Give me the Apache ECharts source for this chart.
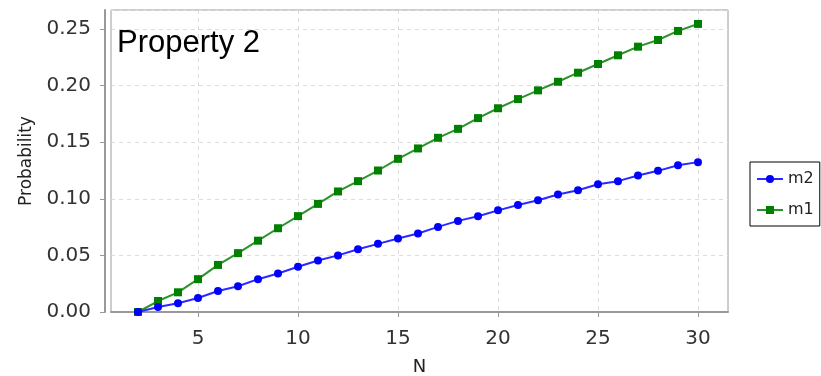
<!DOCTYPE html>
<html>
<head>
<meta charset="utf-8">
<script src="https://cdn.jsdelivr.net/npm/echarts@6/dist/echarts.min.js"></script>
<style>html,body{margin:0;padding:0;background:#fff;}#c{width:821px;height:376px;}</style>
</head>
<body>
<div id="c"></div>
<script>
var N = [2,3,4,5,6,7,8,9,10,11,12,13,14,15,16,17,18,19,20,21,22,23,24,25,26,27,28,29,30];
var m1 = [0,0.0097,0.0174,0.029,0.0416,0.052,0.063,0.074,0.0847,0.0955,0.1065,0.1156,0.125,0.1353,0.1445,0.1539,0.1618,0.1713,0.18,0.1881,0.1958,0.2034,0.2114,0.2191,0.2268,0.2344,0.2403,0.2483,0.2545];
var m2 = [0,0.0044,0.0077,0.0124,0.0186,0.0227,0.029,0.034,0.040,0.0455,0.050,0.0555,0.0602,0.0649,0.0693,0.0752,0.0805,0.0846,0.0898,0.0946,0.0988,0.1038,0.1076,0.1129,0.1156,0.1206,0.1247,0.1297,0.1324];
var xTicks = [5,10,15,20,25,30];
var seriesNames = ['m1','m2'];
var chartTitle = 'Property 2';

function pairs(xs, ys){ return xs.map(function(x,i){ return [x, ys[i]]; }); }

var chart = echarts.init(document.getElementById('c'), null, {renderer:'canvas'});
var axisFont = 'DejaVu Sans';
chart.setOption({
  animation: false,
  backgroundColor: '#fff',
  grid: {left: 111, right: 93, top: 10, bottom: 64, outerBoundsMode: 'none', containLabel: false,
         show: true, borderColor: '#9a9a9a', borderWidth: 1, backgroundColor: '#fff'},
  graphic: [{
    type: 'text', left: 117, top: 28, z: 100,
    style: {text: chartTitle, font: '31px "Liberation Sans", Arial, sans-serif', fill: '#000'}
  }],
  legend: {
    data: ['m2','m1'], orient: 'vertical', left: 750, top: 162,
    borderColor: '#000', borderWidth: 1, backgroundColor: '#fff',
    padding: [9,6,8,6], itemWidth: 26, itemHeight: 10, itemGap: 15,
    textStyle: {fontFamily: axisFont, fontSize: 16, color: '#222'}
  },
  xAxis: {
    type: 'value', min: 0.65, max: 31.5, offset: 6,
    name: 'N', nameLocation: 'middle', nameGap: 40,
    nameTextStyle: {fontFamily: axisFont, fontSize: 18, color: '#222'},
    axisLine: {show: true, lineStyle: {color: '#999', width: 2}},
    axisTick: {show: true, length: 5, lineStyle: {color: '#999'}, customValues: xTicks},
    axisLabel: {fontFamily: axisFont, fontSize: 20, color: '#333', margin: 11, customValues: xTicks},
    splitLine: {show: true, lineStyle: {color: '#dcdcdc', type: [4,4], width: 1}}
  },
  yAxis: {
    type: 'value', min: 0, max: 0.2668, offset: 6,
    name: 'Probability', nameLocation: 'middle', nameGap: 70, nameRotate: 90,
    nameTextStyle: {fontFamily: axisFont, fontSize: 17, color: '#222'},
    axisLine: {show: true, lineStyle: {color: '#999', width: 2}},
    axisTick: {show: true, length: 5, lineStyle: {color: '#999'}},
    axisLabel: {fontFamily: axisFont, fontSize: 20, color: '#333', margin: 14, showMaxLabel: false,
      formatter: function(v){ return v.toFixed(2); }},
    splitLine: {show: true, lineStyle: {color: '#dcdcdc', type: [4,4], width: 1}}
  },
  series: [
    {name: 'm1', type: 'line', data: pairs(N, m1), symbol: 'rect', symbolSize: 8,
     itemStyle: {color: '#008000'}, lineStyle: {color: '#2a932a', width: 2}},
    {name: 'm2', type: 'line', data: pairs(N, m2), symbol: 'circle', symbolSize: 8,
     itemStyle: {color: '#0000ff'}, lineStyle: {color: '#2a2aff', width: 2}}
  ]
});
</script>
</body>
</html>
